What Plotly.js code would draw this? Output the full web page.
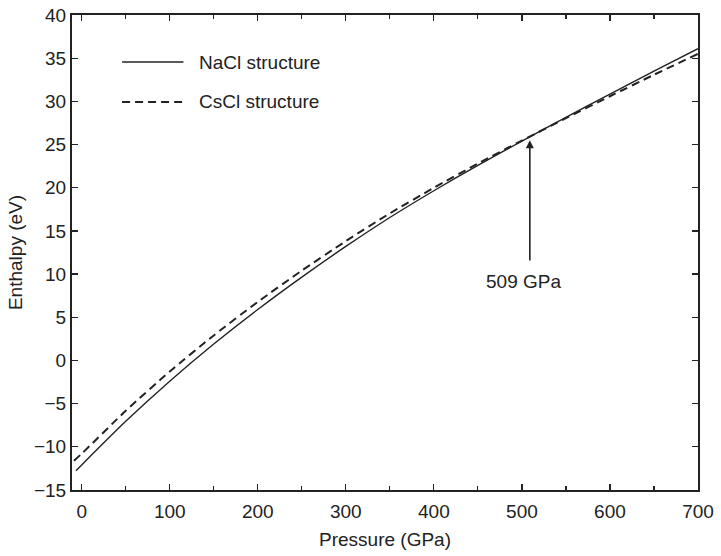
<!DOCTYPE html>
<html>
<head>
<meta charset="utf-8">
<script src="https://cdn.plot.ly/plotly-3.0.1.min.js"></script>
<style>html,body{margin:0;padding:0;background:#fff;}#chart{width:721px;height:556px;}</style>
</head>
<body>
<div id="chart"></div>
<script>
// Pressure (GPa) and enthalpy (eV)
var naclPressure = [-6.5, 0, 50, 100, 150, 200, 250, 300, 350, 400, 450, 500, 550, 600, 650, 700];
var naclEnthalpy = [-12.77, -12.1, -7.05, -2.4, 1.9, 5.9, 9.65, 13.2, 16.55, 19.65, 22.6, 25.4, 28.15, 30.85, 33.5, 36.1];
var csclPressure = [-8.75, 0, 50, 100, 150, 200, 250, 300, 350, 400, 450, 500, 550, 600, 650, 700];
var csclEnthalpy = [-11.6, -10.8, -5.83, -1.28, 2.9, 6.78, 10.4, 13.82, 17.03, 19.99, 22.8, 25.46, 28.05, 30.59, 33.08, 35.5];
var seriesNames = ["NaCl structure", "CsCl structure"];
var transitionPressure = 509;
var transitionEnthalpy = 25.5;
var transitionLabel = "509 GPa";
var xTitle = "Pressure (GPa)";
var yTitle = "Enthalpy (eV)";

var ink = "#222222";
var font = "Liberation Sans, Arial, Helvetica, sans-serif";

var traces = [
  {x: naclPressure, y: naclEnthalpy, name: seriesNames[0], mode: "lines",
   line: {color: ink, width: 1.4, shape: "spline", smoothing: 0.6}, showlegend: false},
  {x: csclPressure, y: csclEnthalpy, name: seriesNames[1], mode: "lines",
   line: {color: ink, width: 2, dash: "8px,5px", shape: "spline", smoothing: 0.6}, showlegend: false}
];

var axisCommon = {
  showline: true, linecolor: ink, linewidth: 2, mirror: "allticks",
  ticks: "inside", ticklen: 6, tickwidth: 1.2, tickcolor: ink,
  showgrid: false, zeroline: false,
  tickfont: {family: font, size: 19, color: ink}
};

var layout = {
  width: 721, height: 556,
  margin: {l: 72, r: 23, t: 15, b: 66},
  paper_bgcolor: "#fff", plot_bgcolor: "#fff",
  xaxis: Object.assign({}, axisCommon, {
    range: [-11, 700], tickmode: "linear", tick0: 0, dtick: 100,
    ticklabelstandoff: 3,
    minor: {dtick: 50, tick0: 0, ticks: "inside", ticklen: 4, tickwidth: 1.2, tickcolor: ink},
    title: {text: xTitle, font: {family: font, size: 19, color: ink}, standoff: 12}
  }),
  yaxis: Object.assign({}, axisCommon, {
    range: [-15, 40], tickmode: "linear", tick0: -15, dtick: 5,
    ticklabelstandoff: 0,
    title: {text: yTitle, font: {family: font, size: 19, color: ink}, standoff: 6}
  }),
  shapes: [
    {type: "line", xref: "paper", yref: "paper", x0: 0.08, x1: 0.178, y0: 0.901, y1: 0.901,
     line: {color: ink, width: 1.4}},
    {type: "line", xref: "paper", yref: "paper", x0: 0.08, x1: 0.178, y0: 0.817, y1: 0.817,
     line: {color: ink, width: 2, dash: "8px,5px"}}
  ],
  annotations: [
    {xref: "paper", yref: "paper", x: 0.2, y: 0.901, xanchor: "left", yanchor: "middle",
     text: seriesNames[0], showarrow: false, font: {family: font, size: 19, color: ink}},
    {xref: "paper", yref: "paper", x: 0.2, y: 0.817, xanchor: "left", yanchor: "middle",
     text: seriesNames[1], showarrow: false, font: {family: font, size: 19, color: ink}},
    {x: transitionPressure, y: transitionEnthalpy, xref: "x", yref: "y",
     ax: transitionPressure, ay: 11.4, axref: "x", ayref: "y",
     text: "", showarrow: true, arrowhead: 2, arrowsize: 1, arrowwidth: 1.6, arrowcolor: ink, standoff: 0},
    {x: transitionPressure, y: 9.1, xref: "x", yref: "y", xshift: -6,
     text: transitionLabel, showarrow: false, font: {family: font, size: 19, color: ink}}
  ]
};

Plotly.newPlot("chart", traces, layout, {displayModeBar: false, staticPlot: true});
</script>
</body>
</html>
